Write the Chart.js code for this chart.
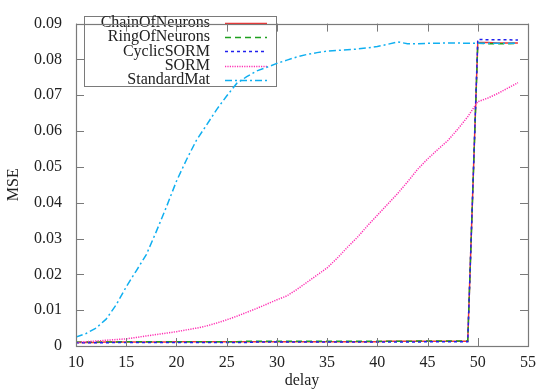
<!DOCTYPE html>
<html>
<head>
<meta charset="utf-8">
<script src="https://cdn.jsdelivr.net/npm/chart.js@4/dist/chart.umd.min.js"></script>
<style>
html,body{margin:0;padding:0;background:#fff;}
#wrap{width:543px;height:389px;position:relative;}
</style>
</head>
<body>
<div id="wrap"><canvas id="c" width="543" height="389"></canvas></div>
<script>
// ---- data ----
const delays = [10,11,12,13,14,15,16,17,18,19,20,21,22,23,24,25,26,27,28,29,30,31,32,33,34,35,36,37,38,39,40,41,42,43,44,45,46,47,48,49,50,51,52,53,54];

const chainOfNeurons = [0.0010,0.0010,0.0010,0.0011,0.0011,0.0011,0.0011,0.0011,0.0011,0.0011,0.0012,0.0012,0.0012,0.0012,0.0012,0.0012,0.0012,0.0012,0.0012,0.0012,0.0012,0.0012,0.0012,0.0012,0.0012,0.0012,0.0012,0.0012,0.0012,0.0012,0.0012,0.0013,0.0013,0.0013,0.0013,0.0013,0.0013,0.0013,0.0013,0.0013,0.0847,0.0847,0.0846,0.0846,0.0846];
const ringOfNeurons = [0.0011,0.0011,0.0011,0.0011,0.0011,0.0012,0.0012,0.0012,0.0012,0.0012,0.0012,0.0012,0.0012,0.0012,0.0012,0.0012,0.0012,0.0013,0.0013,0.0013,0.0013,0.0013,0.0013,0.0013,0.0013,0.0013,0.0013,0.0013,0.0013,0.0013,0.0013,0.0013,0.0013,0.0013,0.0014,0.0014,0.0014,0.0014,0.0014,0.0014,0.0845,0.0844,0.0844,0.0844,0.0845];
const cyclicSORM = [0.0009,0.0009,0.0009,0.0009,0.0010,0.0010,0.0010,0.0010,0.0010,0.0010,0.0010,0.0010,0.0010,0.0010,0.0010,0.0010,0.0010,0.0010,0.0011,0.0011,0.0011,0.0011,0.0011,0.0011,0.0011,0.0011,0.0011,0.0011,0.0011,0.0011,0.0011,0.0011,0.0011,0.0011,0.0011,0.0012,0.0012,0.0012,0.0012,0.0012,0.0856,0.0855,0.0855,0.0855,0.0854];
const sorm = [0.0010,0.0012,0.0014,0.0016,0.0018,0.0020,0.0024,0.0028,0.0032,0.0036,0.0040,0.0045,0.0050,0.0056,0.0064,0.0073,0.0083,0.0094,0.0105,0.0117,0.0129,0.0140,0.0158,0.0178,0.0198,0.0218,0.0245,0.0275,0.0303,0.0335,0.0365,0.0395,0.0425,0.0458,0.0493,0.0522,0.0548,0.0573,0.0605,0.0640,0.0682,0.0692,0.0705,0.0720,0.0735];
const standardMat = [0.0025,0.0035,0.0050,0.0075,0.0115,0.0165,0.0210,0.0255,0.0320,0.0388,0.0460,0.0520,0.0575,0.0617,0.0660,0.0698,0.0733,0.0752,0.0768,0.0778,0.0789,0.0798,0.0807,0.0814,0.0819,0.0823,0.0825,0.0827,0.0829,0.0832,0.0836,0.0842,0.0849,0.0844,0.0844,0.0845,0.0845,0.0846,0.0846,0.0845,0.0845,0.0845,0.0845,0.0845,0.0845];

const seriesNames = ['ChainOfNeurons','RingOfNeurons','CyclicSORM','SORM','StandardMat'];
const xTickLabels = ['10','15','20','25','30','35','40','45','50','55'];
const yTickLabels = ['0','0.01','0.02','0.03','0.04','0.05','0.06','0.07','0.08','0.09'];

// ---- styles ----
const FONT = 'Liberation Serif, DejaVu Serif, serif';
const styles = [
  {color:'#f03535', dash:[]},
  {color:'#1fa01f', dash:[6,4]},
  {color:'#2020ee', dash:[3,3]},
  {color:'#ff30b4', dash:[1.2,1.2]},
  {color:'#10aff0', dash:[7,3,2,3]}
];
const allSeries = [chainOfNeurons, ringOfNeurons, cyclicSORM, sorm, standardMat];

const datasets = allSeries.map((vals, i) => ({
  label: seriesNames[i],
  data: vals.map((v, j) => ({x: delays[j], y: v})),
  borderColor: styles[i].color,
  borderDash: styles[i].dash,
  borderWidth: 1.5,
  pointRadius: 0,
  tension: 0,
  fill: false,
  order: 4 - i
}));

const BORDER = '#7a7a7a';

const framePlugin = {
  id: 'frame',
  beforeDatasetsDraw(chart) {
    const ctx = chart.ctx;
    ctx.save();
    const bx = 84, by = 16, bw = 192, bh = 70;
    ctx.strokeStyle = BORDER;
    ctx.lineWidth = 1;
    ctx.strokeRect(bx + 0.5, by + 0.5, bw, bh);
    ctx.font = '16px ' + FONT;
    ctx.fillStyle = '#222';
    ctx.textAlign = 'right';
    ctx.textBaseline = 'middle';
    seriesNames.forEach((name, i) => {
      const y = 23 + i * 14.2;
      ctx.fillText(name, 210, y);
      ctx.save();
      ctx.strokeStyle = styles[i].color;
      ctx.setLineDash(styles[i].dash);
      ctx.lineWidth = 1.5;
      ctx.beginPath();
      ctx.moveTo(225, Math.round(y) + 0.5);
      ctx.lineTo(267, Math.round(y) + 0.5);
      ctx.stroke();
      ctx.restore();
    });
    ctx.restore();
  },
  afterDraw(chart) {
    const ctx = chart.ctx;
    const a = chart.chartArea;
    const xs = chart.scales.x, ys = chart.scales.y;
    ctx.save();
    ctx.strokeStyle = BORDER;
    ctx.lineWidth = 1;
    ctx.beginPath();
    xTickLabels.forEach(t => {
      const px = Math.round(xs.getPixelForValue(+t)) + 0.5;
      ctx.moveTo(px, a.bottom); ctx.lineTo(px, a.bottom - 8);
      ctx.moveTo(px, a.top); ctx.lineTo(px, a.top + 8);
    });
    yTickLabels.forEach(t => {
      const py = Math.round(ys.getPixelForValue(+t)) + 0.5;
      ctx.moveTo(a.left, py); ctx.lineTo(a.left + 8, py);
      ctx.moveTo(a.right, py); ctx.lineTo(a.right - 8, py);
    });
    ctx.stroke();
    ctx.lineWidth = 1.2;
    ctx.strokeRect(Math.round(a.left) + 0.5, Math.round(a.top) + 0.5, Math.round(a.right - a.left), Math.round(a.bottom - a.top));
    ctx.restore();
  }
};

new Chart(document.getElementById('c'), {
  type: 'line',
  data: { datasets },
  options: {
    responsive: false,
    animation: false,
    layout: { padding: { left: 0, right: 8, top: 8, bottom: 0 } },
    plugins: { legend: { display: false }, tooltip: { enabled: false } },
    scales: {
      x: {
        type: 'linear', min: 10, max: 55,
        afterFit(s) { s.height = 43; },
        afterBuildTicks(s) { s.ticks = xTickLabels.map(t => ({value: +t})); },
        grid: { display: false, drawTicks: false },
        border: { display: false },
        ticks: { color: '#222', padding: 7, font: { family: FONT, size: 16 },
                 callback: (v, i) => xTickLabels[i] },
        title: { display: true, text: 'delay', color: '#222', padding: 0,
                 font: { family: FONT, size: 16, lineHeight: 1 } }
      },
      y: {
        type: 'linear', min: 0, max: 0.09,
        afterFit(s) { s.width = 76; },
        afterBuildTicks(s) { s.ticks = yTickLabels.map(t => ({value: +t})); },
        grid: { display: false, drawTicks: false },
        border: { display: false },
        ticks: { color: '#222', padding: 14, font: { family: FONT, size: 16 },
                 callback: (v, i) => yTickLabels[i] },
        title: { display: true, text: 'MSE', color: '#222', padding: {top: 6, bottom: 0},
                 font: { family: FONT, size: 16, lineHeight: 1 } }
      }
    }
  },
  plugins: [framePlugin]
});
</script>
</body>
</html>
